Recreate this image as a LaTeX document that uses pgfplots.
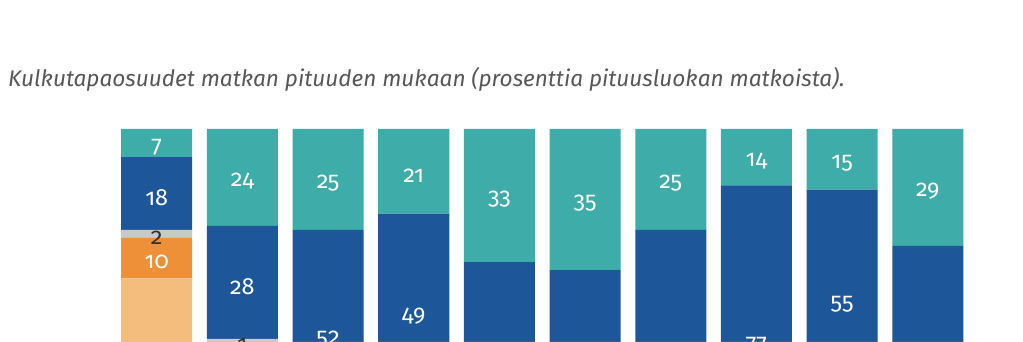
\documentclass[border=0pt]{standalone}
\usepackage{fontspec}
\setmainfont{Fira Sans}
\newfontfamily\labfont[Numbers=OldStyle]{Fira Sans}
\usepackage{pgfplots}
\usepackage{pgfplotstable}
\pgfplotsset{compat=1.18}
\definecolor{cteal}{HTML}{3EACA8}
\definecolor{cblue}{HTML}{1E569A}
\definecolor{cgray}{HTML}{C9C9C9}
\definecolor{corange}{HTML}{EE9038}
\definecolor{clight}{HTML}{F5BD7D}
\definecolor{ctitle}{HTML}{575757}
\definecolor{clabdark}{HTML}{333333}

% segments, bottom to top: light orange, orange, grey, dark blue, teal
\pgfplotstableread{
x lor or gr bl te
0 63 10 2 18 7
1 37 10 1 28 24
2 15 5 3 52 25
3 20 5 5 49 21
4 10 4 3 50 33
5 8 4 3 50 35
6 7 3 3 62 25
7 5 2 2 77 14
8 20 5 5 55 15
9 8 4 3 56 29
}\bars

% label positions (segment centres) and texts
\pgfplotstableread{
x y lab
0 96.5 7
0 84 18
0 68 10
1 88 24
1 62 28
2 87.5 25
2 49 52
3 89.5 21
3 54.5 49
4 83.5 33
5 82.5 35
6 87.5 25
7 93 14
7 47.5 77
8 92.5 15
8 57.5 55
9 85.5 29
}\labswhite

\pgfplotstableread{
x y lab
0 74 2
1 47.5 1
}\labsdark

\begin{document}
\begin{tikzpicture}
\pgfplotsset{myaxis/.style={
  at={(0,0)}, anchor=south west, scale only axis,
  width=856.7pt, height=213pt,
  xmin=-0.5, xmax=9.5, ymin=47.2, ymax=100,
  hide axis}}
\begin{axis}[myaxis, ybar stacked, bar width=0.829]
\addplot[fill=clight, draw=none] table[x=x, y=lor] {\bars};
\addplot[fill=corange, draw=none] table[x=x, y=or] {\bars};
\addplot[fill=cgray, draw=none] table[x=x, y=gr] {\bars};
\addplot[fill=cblue, draw=none] table[x=x, y=bl] {\bars};
\addplot[fill=cteal, draw=none] table[x=x, y=te] {\bars};
\end{axis}
\begin{axis}[myaxis, clip=false]
\addplot[draw=none, mark=none, nodes near coords, point meta=explicit symbolic,
  every node near coord/.append style={anchor=center, yshift=-4pt, text=white,
    font=\labfont\fontsize{23.5}{28}\selectfont}]
  table[x=x, y=y, meta=lab] {\labswhite};
\addplot[draw=none, mark=none, nodes near coords, point meta=explicit symbolic,
  every node near coord/.append style={anchor=center, yshift=-4pt, text=clabdark,
    font=\labfont\fontsize{23.5}{28}\selectfont}]
  table[x=x, y=y, meta=lab] {\labsdark};
\end{axis}
\node[anchor=base west, text=ctitle, inner sep=0pt,
  font=\fontsize{22.6}{27}\selectfont\itshape] at (-105.9pt,255.3pt)
  {Kulkutapaosuudet matkan pituuden mukaan (prosenttia pituusluokan matkoista).};
\pgfresetboundingbox
\path[use as bounding box] (-113.9pt,0pt) rectangle (909.1pt,342pt);
\end{tikzpicture}
\end{document}
